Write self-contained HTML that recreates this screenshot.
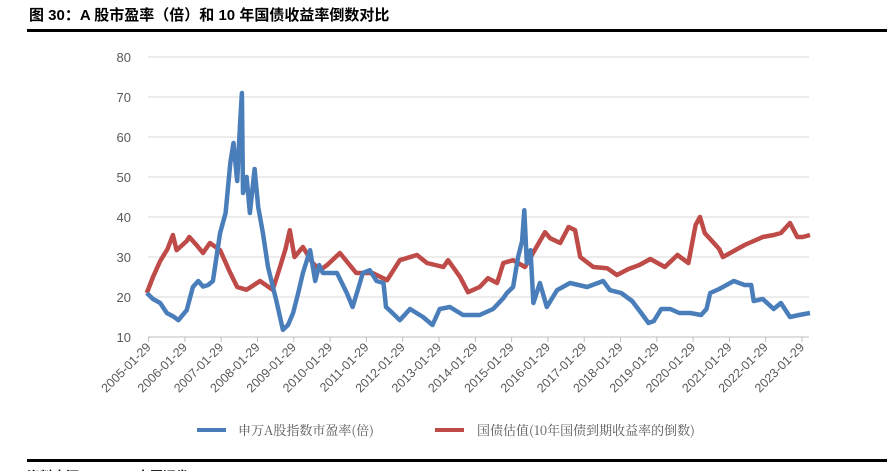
<!DOCTYPE html>
<html><head><meta charset="utf-8"><style>
body{margin:0;width:887px;height:471px;overflow:hidden;background:#fff;font-family:"Liberation Sans","Noto Sans CJK SC",sans-serif;}
</style></head><body>
<svg id="c" width="887" height="471" xmlns="http://www.w3.org/2000/svg">
<text x="29" y="20" font-size="15" font-weight="bold" fill="#000" font-family="Liberation Sans, Noto Sans CJK SC, sans-serif">图 30：A 股市盈率（倍）和 10 年国债收益率倒数对比</text>
<rect x="27" y="29" width="860" height="3" fill="#000"/>
<g id="grid"></g><g id="xax"></g><g id="series"></g>
<g>
<line x1="197" y1="430" x2="226" y2="430" stroke="#4a7ebb" stroke-width="4"/>
<text x="238" y="435" font-size="13" fill="#595959" font-family="Noto Serif CJK SC, serif">申万A股指数市盈率(倍)</text>
<line x1="435" y1="430" x2="464" y2="430" stroke="#be4b48" stroke-width="4"/>
<text x="477" y="435" font-size="13" fill="#595959" font-family="Noto Serif CJK SC, serif">国债估值(10年国债到期收益率的倒数)</text>
</g>
<rect x="27" y="459" width="860" height="3" fill="#000"/>
<text x="27" y="481" font-size="13" font-weight="bold" fill="#000">资料来源：Wind，中原证券</text>
</svg>
<script>
const yTicks=[10,20,30,40,50,60,70,80];
const xLabels=["2005-01-29","2006-01-29","2007-01-29","2008-01-29","2009-01-29","2010-01-29","2011-01-29","2012-01-29","2013-01-29","2014-01-29","2015-01-29","2016-01-29","2017-01-29","2018-01-29","2019-01-29","2020-01-29","2021-01-29","2022-01-29","2023-01-29"];
const peT=[2005.03,2005.2,2005.4,2005.58,2005.75,2005.9,2006.13,2006.3,2006.45,2006.58,2006.72,2006.85,2007.05,2007.2,2007.33,2007.42,2007.52,2007.6,2007.65,2007.68,2007.78,2007.87,2008.0,2008.1,2008.23,2008.37,2008.6,2008.78,2008.92,2009.06,2009.2,2009.33,2009.53,2009.67,2009.78,2009.88,2010.1,2010.27,2010.54,2010.7,2010.85,2010.98,2011.17,2011.36,2011.55,2011.62,2011.8,2012.0,2012.28,2012.64,2012.9,2013.1,2013.38,2013.74,2014.2,2014.57,2014.85,2014.95,2015.12,2015.26,2015.37,2015.43,2015.5,2015.6,2015.68,2015.86,2016.05,2016.33,2016.69,2017.16,2017.6,2017.79,2018.1,2018.4,2018.65,2018.85,2019.0,2019.2,2019.45,2019.7,2020.0,2020.3,2020.45,2020.55,2020.8,2021.0,2021.2,2021.5,2021.68,2021.75,2022.0,2022.3,2022.5,2022.75,2023.0,2023.3];
const peV=[21,19.5,18.5,16,15.2,14.2,16.7,22.5,24,22.6,23,24,36,41,53.5,58.5,49,63.5,71,46,50,41,52,42.5,36,27.5,19,11.8,13,16,21,26,31.7,24,28,26,26,26,21,17.5,22,26,26.7,24,23.5,17.5,16,14.2,17,15,13,17,17.5,15.5,15.5,17,19.7,21,22.5,30,34,41.7,28.5,31.7,18.5,23.5,17.5,21.7,23.5,22.5,24,21.7,21,19,16,13.5,14,17,17,16,16,15.5,17,21,22,23,24,23,23,19,19.5,17,18.5,15,15.5,16];
const bdT=[2005.03,2005.2,2005.4,2005.6,2005.75,2005.85,2005.95,2006.13,2006.2,2006.4,2006.58,2006.77,2007.05,2007.33,2007.52,2007.78,2008.15,2008.5,2008.7,2008.85,2008.97,2009.1,2009.33,2009.6,2009.8,2010.0,2010.35,2010.8,2011.25,2011.65,2012.0,2012.47,2012.75,2013.2,2013.33,2013.66,2013.88,2014.2,2014.43,2014.68,2014.85,2015.12,2015.45,2015.67,2016.0,2016.14,2016.42,2016.65,2016.83,2016.97,2017.33,2017.71,2017.98,2018.3,2018.6,2018.9,2019.3,2019.65,2019.95,2020.15,2020.27,2020.4,2020.6,2020.8,2020.9,2021.2,2021.5,2021.75,2022.0,2022.3,2022.5,2022.75,2022.95,2023.1,2023.3];
const bdV=[21,25,29,32,35.5,31.7,32.5,34,35,33,31,33.5,31.7,26,22.5,21.8,24,21.8,27.5,32,36.7,30,32.5,28.5,26.7,28,31,26,26,24.2,29.2,30.5,28.5,27.5,29.2,25,21.2,22.5,24.7,23.5,28.5,29.2,27.5,31,36.2,34.7,33.5,37.5,36.7,30,27.5,27.2,25.5,27,28,29.5,27.5,30.5,28.5,38,40,36,34,32,30,31.5,33,34,35,35.5,36,38.5,35,35,35.5];
const NS="http://www.w3.org/2000/svg";
const X0=148.6,XS=36.3,T0=2005.08;
const xs=t=>X0+(t-T0)*XS;
const ys=v=>337-(v-10)*4;
function mk(tag,attrs,parent){const e=document.createElementNS(NS,tag);for(const k in attrs)e.setAttribute(k,attrs[k]);parent.appendChild(e);return e;}
const grid=document.getElementById('grid');
yTicks.forEach(v=>{
  const l=mk('line',{x1:148,x2:809,y1:ys(v),y2:ys(v),stroke:v===10?'#bfbfbf':'#d9d9d9','stroke-width':1},grid);
  
  
  const t=mk('text',{x:131,y:ys(v)+5,'font-size':13,fill:'#595959','text-anchor':'end'},grid);
  t.textContent=v;
  
  
});
const xax=document.getElementById('xax');
xLabels.forEach((s,i)=>{
  const x=X0+i*XS;
  const tk=mk('line',{x1:x,x2:x,y1:337,y2:342,stroke:'#bfbfbf'},xax);
  
  
  const t=mk('text',{x:x+3,y:348,'font-size':12.5,fill:'#595959','text-anchor':'end',transform:`rotate(-45 ${x+3} 348)`},xax);
  t.textContent=s;
  
  
});
const sg=document.getElementById('series');
function line(T,V,color,name){
  const d=T.map((t,i)=>(i?'L':'M')+xs(t).toFixed(1)+' '+ys(V[i]).toFixed(1)).join(' ');
  const p=mk('path',{d:d,fill:'none',stroke:color,'stroke-width':4.5,'stroke-linejoin':'round'},sg);
  
  
}
line(bdT,bdV,'#be4b48','bond-valuation-line');
line(peT,peV,'#4a7ebb','pe-ratio-line');
</script>
</body></html>
